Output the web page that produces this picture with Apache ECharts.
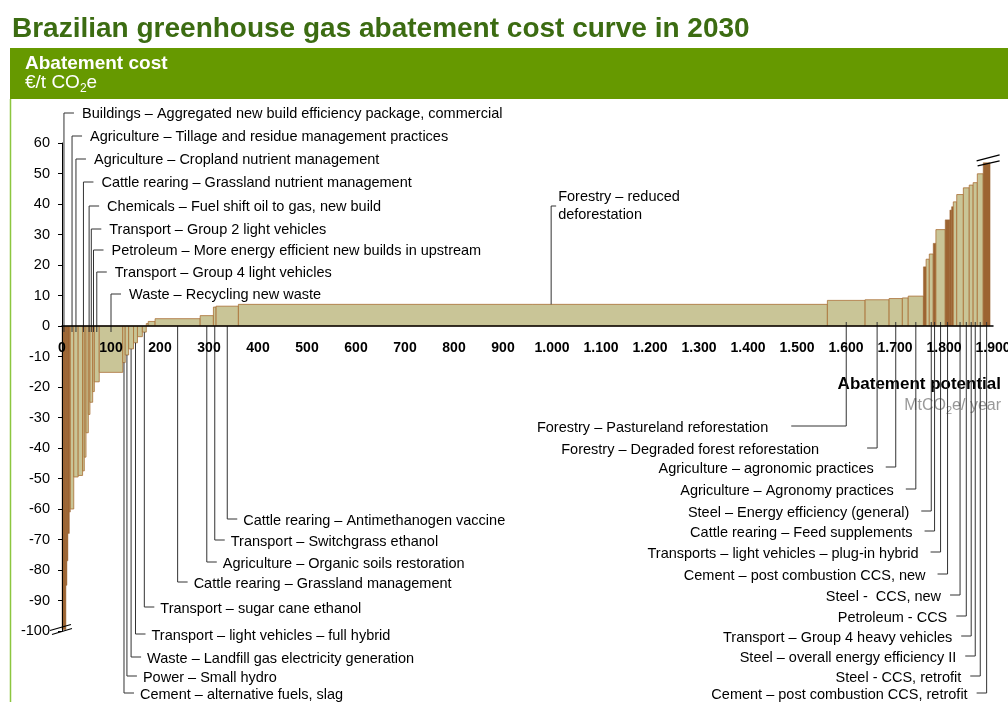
<!DOCTYPE html>
<html><head><meta charset="utf-8">
<script src="https://cdn.jsdelivr.net/npm/echarts@6.0.0/dist/echarts.min.js"></script>
<style>html,body{margin:0;padding:0;background:#fff;overflow:hidden}#c{width:1008px;height:702px}</style>
</head><body><div id="c"></div>
<script>
// ---------- DATA ----------
// abatement potential of each measure (MtCO2e / year), in curve order
const barPotential = [8,2,2,3,2,7,9,9,3.5,3.5,4.7,3.3,5.6,3.4,10,48,5,7,10,8,10,8,4,14,92,27,5.5,45.5,1202,77,49,27,12,31,5.5,6.5,8,5.5,19,9.5,3.5,3.5,7,13.5,12,8,8.5,12,14];
// abatement cost of each measure (EUR / t CO2e)
const barCost = [-99.5,-85,-77,-68,-61,-60,-49.5,-49,-47.5,-43,-35,-29,-25,-21.5,-18.3,-15.2,-12,-9.5,-7.5,-5.5,-3.5,-2,0.8,1.5,2.4,3.4,6.2,6.5,7.1,8.4,8.6,9.0,9.2,9.8,19.4,21.9,23.6,27.1,31.6,34.8,38,39.1,40.7,43.1,45.3,46.2,47,49.9,53.5];

const xTicks = [0,100,200,300,400,500,600,700,800,900,1000,1100,1200,1300,1400,1500,1600,1700,1800,1900];
const yTicks = [60,50,40,30,20,10,0,-10,-20,-30,-40,-50,-60,-70,-80,-90,-100];

const upperLeftLabels = [
  'Buildings – Aggregated new build efficiency package, commercial',
  'Agriculture – Tillage and residue management practices',
  'Agriculture – Cropland nutrient management',
  'Cattle rearing – Grassland nutrient management',
  'Chemicals – Fuel shift oil to gas, new build',
  'Transport – Group 2 light vehicles',
  'Petroleum – More energy efficient new builds in upstream',
  'Transport – Group 4 light vehicles',
  'Waste – Recycling new waste'
];
const upperLeftBars = [0,5,6,8,11,12,13,14,15];

const lowerLeftLabels = [
  'Cattle rearing – Antimethanogen vaccine',
  'Transport – Switchgrass ethanol',
  'Agriculture – Organic soils restoration',
  'Cattle rearing – Grassland management',
  'Transport – sugar cane ethanol',
  'Transport – light vehicles – full hybrid',
  'Waste – Landfill gas electricity generation',
  'Power – Small hydro',
  'Cement – alternative fuels, slag'
];
const lowerLeftBars = [27,26,25,24,21,19,18,17,16];

const rightLabels = [
  'Forestry – Pastureland reforestation',
  'Forestry – Degraded forest reforestation',
  'Agriculture – agronomic practices',
  'Agriculture – Agronomy practices',
  'Steel – Energy efficiency (general)',
  'Cattle rearing – Feed supplements',
  'Transports – light vehicles – plug-in hybrid',
  'Cement – post combustion CCS, new',
  'Steel -  CCS, new',
  'Petroleum - CCS',
  'Transport – Group 4 heavy vehicles',
  'Steel – overall energy efficiency II',
  'Steel - CCS, retrofit',
  'Cement – post combustion CCS, retrofit'
];
const rightBars = [29,30,31,33,36,37,38,39,43,44,45,46,47,48];

const forestLabel = ['Forestry – reduced', 'deforestation'];
const forestBar = 28;

// ---------- LAYOUT / STYLE (annotation placement only) ----------
const upperLeftY = [114,137,160,183,207,230,251,273,295];
const lowerLeftY = [521,542,564,584,609,636,659,678,695];
const rightY = [428,450,469,491,513,533,554,576,597,618,638,658,678,695];
const rightArm = [55,10,10,10,10,10,10,10,10,10,10,10,10,10];
const rightGap = [23,48,12,12,12,12,12,12,9,9,9,9,9,9];
const forestAt = 0.531;
const darkBars = [0,1,2,3,4,34,37,39,40,41,48];

const FONT = '"Liberation Sans", Arial, Helvetica, sans-serif';
const TAN = '#c9c597', EDGE = '#a96f35', BROWN = '#9c6432', LINE = '#333';
const GREEN_DARK = '#3c6c12', GREEN = '#669900', GREEN_LIGHT = '#8cc63f';

// cumulative positions
const starts = [], ends = [];
let acc = 0;
barPotential.forEach(p => { starts.push(acc); acc += p; ends.push(acc); });
const barData = barPotential.map((p, i) => [starts[i], ends[i], barCost[i]]);
const lastBar = barPotential.length - 1;

// annotations
const annots = [];
upperLeftLabels.forEach((t, i) => annots.push({kind:'ul', text:t, y:upperLeftY[i], bar:upperLeftBars[i], at:0.5}));
lowerLeftLabels.forEach((t, i) => annots.push({kind:'ll', text:t, y:lowerLeftY[i], bar:lowerLeftBars[i], at:0.5}));
rightLabels.forEach((t, i) => annots.push({kind:'r', text:t, y:rightY[i], bar:rightBars[i], at:0.5, arm:rightArm[i], gap:rightGap[i]}));
annots.push({kind:'f', text:forestLabel, y:206, bar:forestBar, at:forestAt});
const annotData = annots.map(a => [starts[a.bar] + a.at * barPotential[a.bar], barCost[a.bar]]);

function fmtX(v) {
  if (v >= 1000) { const s = String(v); return s.slice(0, s.length - 3) + '.' + s.slice(-3); }
  return String(v);
}

const mctx = document.createElement('canvas').getContext('2d');
function tw(text, font) { mctx.font = font; return mctx.measureText(text).width; }

const chart = echarts.init(document.getElementById('c'), null, {renderer:'canvas'});

const hdrFont = '19px ' + FONT;
const subFont = '12px ' + FONT;
const w1 = tw('€/t CO', hdrFont), w2 = tw('2', subFont);
const potFont = '16px ' + FONT, potSub = '11px ' + FONT;
const pwE = tw('e/ year', potFont), pw2 = tw('2', potSub);
const potRight = 1001;

chart.setOption({
  animation: false,
  backgroundColor: '#fff',
  grid: {left: 62, right: 15, top: 143, bottom: 71, containLabel: false, outerBoundsMode: 'none'},
  xAxis: {
    type: 'value', min: xTicks[0], max: xTicks[xTicks.length - 1], interval: 100, z: 10,
    axisLine: {onZero: true, lineStyle: {color: '#000', width: 1.5}},
    axisTick: {show: false}, splitLine: {show: false},
    axisLabel: {show: false}
  },
  yAxis: {
    type: 'value', min: yTicks[yTicks.length - 1], max: yTicks[0], interval: 10, z: 10,
    axisLine: {show: true, onZero: false, lineStyle: {color: '#000', width: 1}},
    axisTick: {show: true, length: 4, lineStyle: {color: '#000'}},
    splitLine: {show: false},
    axisLabel: {margin: 12, color: '#000', fontFamily: FONT, fontSize: 14.5}
  },
  graphic: [
    {type:'text', x:12, y:29, style:{text:'Brazilian greenhouse gas abatement cost curve in 2030', font:'bold 28px ' + FONT, fill:GREEN_DARK, verticalAlign:'middle'}},
    {type:'rect', shape:{x:10, y:48, width:998, height:51}, style:{fill:GREEN}},
    {type:'line', shape:{x1:10.5, y1:99, x2:10.5, y2:702}, style:{stroke:GREEN_LIGHT, lineWidth:1.5}},
    {type:'text', x:25, y:64, style:{text:'Abatement cost', font:'bold 19px ' + FONT, fill:'#fff', verticalAlign:'middle'}},
    {type:'text', x:25, y:83, style:{text:'€/t CO', font:hdrFont, fill:'#fff', verticalAlign:'middle'}},
    {type:'text', x:25 + w1, y:89, style:{text:'2', font:subFont, fill:'#fff', verticalAlign:'middle'}},
    {type:'text', x:25 + w1 + w2, y:83, style:{text:'e', font:hdrFont, fill:'#fff', verticalAlign:'middle'}},
    {type:'text', x:potRight, y:384, style:{text:'Abatement potential', font:'bold 17px ' + FONT, fill:'#000', align:'right', verticalAlign:'middle'}},
    {type:'text', x:potRight, y:406, style:{text:'e/ year', font:potFont, fill:'#999', align:'right', verticalAlign:'middle'}},
    {type:'text', x:potRight - pwE, y:411, style:{text:'2', font:potSub, fill:'#999', align:'right', verticalAlign:'middle'}},
    {type:'text', x:potRight - pwE - pw2, y:406, style:{text:'MtCO', font:potFont, fill:'#999', align:'right', verticalAlign:'middle'}}
  ],
  series: [
    {
      type: 'custom', clip: false, z: 2,
      data: barData,
      encode: {x: [0, 1], y: 2},
      renderItem: function (params, api) {
        const i = params.dataIndex;
        const p0 = api.coord([api.value(0), 0]);
        const p1 = api.coord([api.value(1), api.value(2)]);
        const w = p1[0] - p0[0];
        const brown = darkBars.indexOf(i) >= 0;
        const rect = {type:'rect', shape:{x:p0[0], y:Math.min(p0[1], p1[1]), width:w, height:Math.abs(p1[1] - p0[1])},
          style:{fill: brown ? BROWN : TAN, stroke: brown ? BROWN : EDGE, lineWidth: brown ? 0.5 : 0.8}};
        const children = [rect];
        if (i === 0) {
          const xc = (p0[0] + p1[0]) / 2, yb = p1[1];
          children.push({type:'line', shape:{x1:xc - 14, y1:yb + 1, x2:xc + 7, y2:yb - 5}, style:{stroke:'#000', lineWidth:1.2}});
          children.push({type:'line', shape:{x1:xc - 12, y1:yb + 5, x2:xc + 8, y2:yb - 1}, style:{stroke:'#000', lineWidth:1.2}});
        }
        if (i === lastBar) {
          const xc = (p0[0] + p1[0]) / 2, yt = p1[1];
          children.push({type:'line', shape:{x1:xc - 10, y1:yt - 2, x2:xc + 13, y2:yt - 8}, style:{stroke:'#000', lineWidth:1.2}});
          children.push({type:'line', shape:{x1:xc - 9, y1:yt + 3, x2:xc + 13, y2:yt - 2}, style:{stroke:'#000', lineWidth:1.2}});
        }
        return {type:'group', children: children};
      }
    },
    {
      type: 'custom', clip: false, z: 5,
      data: annotData,
      encode: {x: 0, y: 1},
      renderItem: function (params, api) {
        const a = annots[params.dataIndex];
        const pb = api.coord([api.value(0), api.value(1)]);
        const pz = api.coord([api.value(0), 0]);
        const x = pb[0], zy = pz[1];
        const ls = {stroke: LINE, lineWidth: 1};
        const tf = '14.5px ' + FONT;
        const ch = [];
        if (a.kind === 'ul') {
          const ly = a.y - 1;
          ch.push({type:'line', shape:{x1:x, y1:ly, x2:x, y2:zy + 6}, style:ls});
          ch.push({type:'line', shape:{x1:x, y1:ly, x2:x + 10, y2:ly}, style:ls});
          ch.push({type:'text', style:{x:x + 18, y:a.y, text:a.text, font:tf, fill:'#000', verticalAlign:'middle'}});
        } else if (a.kind === 'll') {
          const ly = a.y - 2;
          const sy = Math.max(pb[1], zy);
          ch.push({type:'line', shape:{x1:x, y1:sy, x2:x, y2:ly}, style:ls});
          ch.push({type:'line', shape:{x1:x, y1:ly, x2:x + 10, y2:ly}, style:ls});
          ch.push({type:'text', style:{x:x + 16, y:a.y, text:a.text, font:tf, fill:'#000', verticalAlign:'middle'}});
        } else if (a.kind === 'r') {
          const ly = a.y - 2;
          ch.push({type:'line', shape:{x1:x, y1:zy - 4, x2:x, y2:ly}, style:ls});
          ch.push({type:'line', shape:{x1:x - a.arm, y1:ly, x2:x, y2:ly}, style:ls});
          ch.push({type:'text', style:{x:x - a.arm - a.gap, y:a.y, text:a.text, font:tf, fill:'#000', align:'right', verticalAlign:'middle'}});
        } else {
          const ly = a.y;
          ch.push({type:'line', shape:{x1:x, y1:ly, x2:x, y2:pb[1]}, style:ls});
          ch.push({type:'line', shape:{x1:x, y1:ly, x2:x + 5, y2:ly}, style:ls});
          ch.push({type:'text', style:{x:x + 7, y:a.y - 9, text:a.text[0], font:tf, fill:'#000', verticalAlign:'middle'}});
          ch.push({type:'text', style:{x:x + 7, y:a.y + 9, text:a.text[1], font:tf, fill:'#000', verticalAlign:'middle'}});
        }
        return {type:'group', children: ch};
      }
    },
    {
      // x-axis tick labels drawn just under the zero line
      type: 'custom', clip: false, z: 6,
      data: xTicks.map(v => [v, 0]),
      encode: {x: 0, y: 1},
      renderItem: function (params, api) {
        const p = api.coord([api.value(0), 0]);
        return {type:'text', style:{x:p[0], y:p[1] + 22, text:fmtX(api.value(0)), font:'bold 14px ' + FONT, fill:'#000', align:'center', verticalAlign:'middle'}};
      }
    }
  ]
});
</script>
</body></html>
